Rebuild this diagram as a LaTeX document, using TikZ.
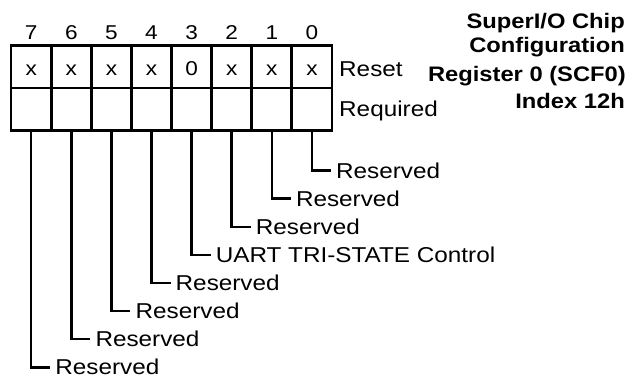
\documentclass[tikz,border=0pt]{standalone}
\usepackage{fontspec}
\setmainfont{Liberation Sans}[FakeStretch=1.13]
\begin{document}
\begin{tikzpicture}[x=1pt,y=-1pt,
  cellbox/.style={draw,line width=2.7pt,minimum width=40.3pt,minimum height=42.7pt,inner sep=0pt,anchor=center},
  bitnum/.style={anchor=base,inner sep=0pt,font=\fontsize{20}{24}\selectfont},
  cellval/.style={anchor=base,inner sep=0pt,font=\fontsize{20}{24}\selectfont},
  rowlbl/.style={anchor=base west,inner sep=0pt,font=\fontsize{21.5}{25}\selectfont},
  ttl/.style={anchor=base east,inner sep=0pt,font=\bfseries\fontsize{21}{24}\selectfont},
  fld/.style={anchor=west,inner xsep=5pt,inner ysep=0pt,font=\fontsize{21.5}{25}\selectfont},
  conn/.style={line width=2.5pt}]
\useasboundingbox (0,0) rectangle (644,378);
% cells
\foreach \b/\v [count=\i from 0] in {7/x,6/x,5/x,4/x,3/0,2/x,1/x,0/x}{
  \pgfmathsetmacro{\cx}{31.2+40.1*\i}
  \node[cellbox] (r\b) at (\cx,66.7) {};
  \node[cellbox] (q\b) at (\cx,109.4) {};
  \node[bitnum] (n\b) at (\cx,39) {\b};
  \node[cellval] (v\b) at (\cx,75.5) {\v};
}
\node[rowlbl] (reset) at (339,76.5) {Reset};
\node[rowlbl] (req) at (339,116) {Required};
% title
\node[ttl] (t1) at (625,28) {SuperI/O Chip};
\node[ttl] (t2) at (625,52) {Configuration};
\node[ttl] (t3) at (626,81) {Register 0 (SCF0)};
\node[ttl] (t4) at (625,108) {Index 12h};
% field labels
\foreach \b/\t in {0/Reserved,1/Reserved,2/Reserved,3/UART TRI-STATE Control,4/Reserved,5/Reserved,6/Reserved,7/Reserved}{
  \pgfmathsetmacro{\lx}{31.2+40.1*(7-\b)+19}
  \pgfmathsetmacro{\ly}{170.6+28.1*\b}
  \node[fld] (f\b) at (\lx,\ly) {\t};
  \draw[conn] (q\b.south) |- (f\b.west);
}
\end{tikzpicture}
\end{document}
